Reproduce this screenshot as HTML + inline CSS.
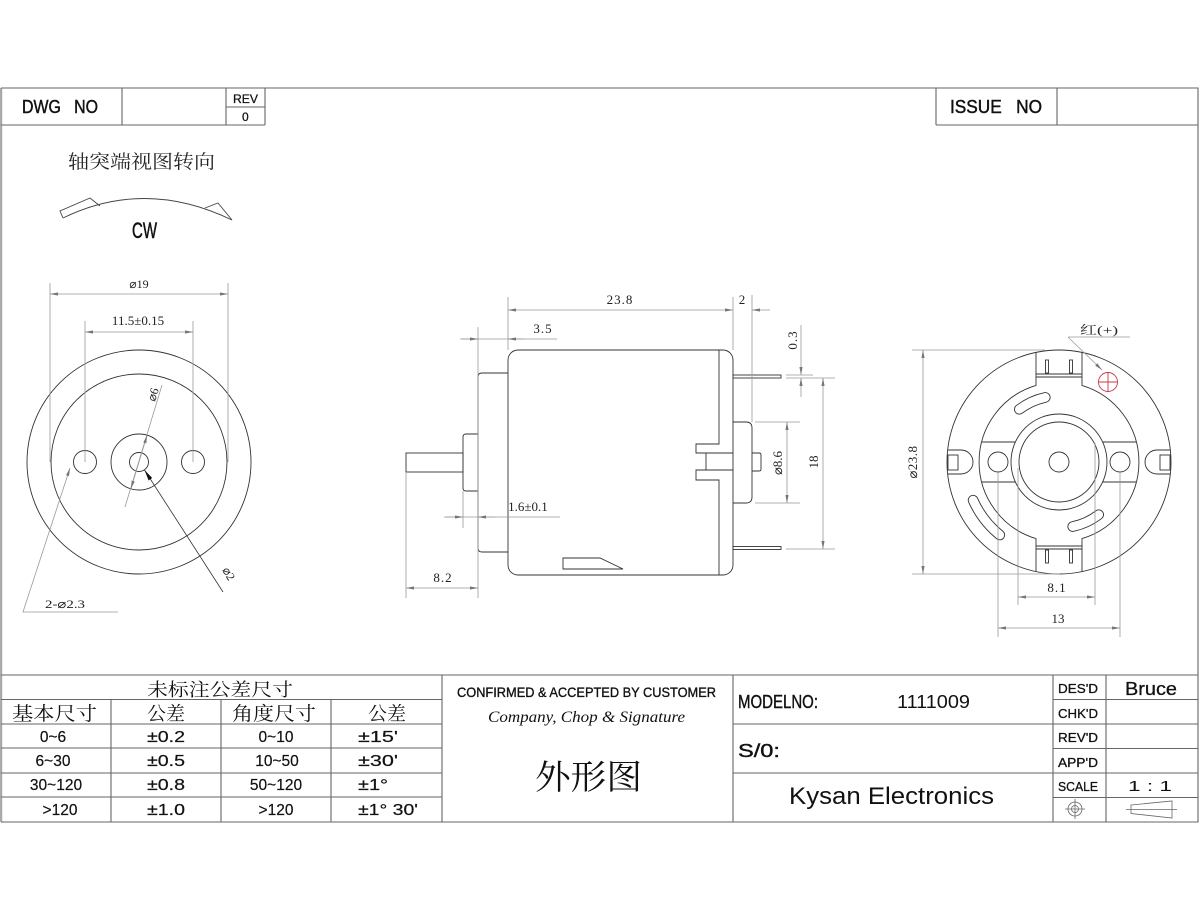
<!DOCTYPE html>
<html><head><meta charset="utf-8">
<style>html,body{margin:0;padding:0;background:#fff}svg{display:block}</style>
</head>
<body>
<svg width="1200" height="910" viewBox="0 0 1200 910" xmlns="http://www.w3.org/2000/svg">
<defs>
<marker id="ar" viewBox="0 0 10 4" refX="10" refY="2" markerWidth="9" markerHeight="3.2" markerUnits="userSpaceOnUse" orient="auto-start-reverse"><path d="M0,0 L10,2 L0,4 z" fill="#777"/></marker>
<marker id="ab" viewBox="0 0 10 4" refX="10" refY="2" markerWidth="11" markerHeight="4.4" markerUnits="userSpaceOnUse" orient="auto-start-reverse"><path d="M0,0 L10,2 L0,4 z" fill="#111"/></marker>
</defs>
<rect width="1200" height="910" fill="#fff"/>

<!-- FRAME -->
<line x1="1" y1="88" x2="1" y2="822" stroke="#aaa" stroke-width="2.5"/>
<g fill="none" stroke="#666" stroke-width="1.1">
 <path d="M1,88 H1198 V822 H1"/>
 <path d="M1,125 H265 M122,88 V125 M226,88 V125 M265,88 V125 M226,107 H265"/>
 <path d="M936,125 H1198 M936,88 V125 M1057,88 V125"/>
 <path d="M1,675 H1198"/>
 <path d="M1,699.5 H442 M1,724 H442 M1,748 H442 M1,773 H442 M1,797 H442 M111,699.5 V822 M221,699.5 V822 M331,699.5 V822 M442,675 V822 M733,675 V822"/>
 <path d="M733,724 H1053 M733,773 H1053 M1053,675 V822 M1106,675 V822 M1053,699.5 H1198 M1053,724 H1198 M1053,748.5 H1198 M1053,773 H1198 M1053,797.5 H1198"/>
</g>

<!-- HEADER TEXT -->
<g font-family="'Liberation Sans Narrow','Liberation Sans',sans-serif" fill="#111" stroke="#111" stroke-width="0.45">
 <text x="22" y="113" font-size="18" textLength="76" lengthAdjust="spacingAndGlyphs">DWG&#160;&#160;&#160;NO</text>
 <text x="233" y="103" font-size="12" textLength="25" lengthAdjust="spacingAndGlyphs" stroke-width="0.25">REV</text>
 <text x="242" y="121" font-size="12" stroke-width="0.25">0</text>
 <text x="950" y="113" font-size="18" textLength="92" lengthAdjust="spacingAndGlyphs">ISSUE&#160;&#160;&#160;NO</text>
</g>

<!-- CW -->
<text x="68" y="168" font-family="'Noto Serif CJK SC','Noto Sans CJK SC',serif" font-size="19" fill="#222" textLength="147" lengthAdjust="spacingAndGlyphs">轴突端视图转向</text>
<g fill="none" stroke="#444" stroke-width="0.9">
 <path d="M63,218 Q145,178 232,220"/>
 <path d="M63,218 L60,211 L90,198 L100,206"/>
 <path d="M205,208 L218,203 L232,220"/>
</g>
<text x="132" y="238" font-family="'Liberation Sans Narrow','Liberation Sans',sans-serif" font-size="22" fill="#111" stroke="#111" stroke-width="0.5" textLength="25" lengthAdjust="spacingAndGlyphs">CW</text>

<!-- LEFT VIEW -->
<g fill="none" stroke="#333" stroke-width="0.9">
 <circle cx="139" cy="462" r="112"/>
 <circle cx="139" cy="462" r="88"/>
 <circle cx="139" cy="462" r="28"/>
 <circle cx="139" cy="462" r="9.5"/>
 <circle cx="85" cy="462" r="11.5"/>
 <circle cx="193" cy="462" r="11.5"/>
</g>
<g fill="none" stroke="#999" stroke-width="0.8">
 <path d="M50,283 V462 M228,283 V462 M85,321 V462 M193,321 V462"/>
 <line x1="50" y1="294" x2="228" y2="294" marker-start="url(#ar)" marker-end="url(#ar)"/>
 <line x1="85" y1="332" x2="193" y2="332" marker-start="url(#ar)" marker-end="url(#ar)"/>
 <path d="M162,385 L125,507"/>
 <line x1="139" y1="462" x2="147.1" y2="435.2" marker-end="url(#ar)"/>
 <line x1="139" y1="462" x2="130.9" y2="488.8" marker-end="url(#ar)"/>
 <path d="M118,612 H23 L70,468" marker-end="url(#ar)"/>
</g>
<line x1="223" y1="592" x2="144.5" y2="470" stroke="#333" stroke-width="0.8" marker-end="url(#ab)"/>
<g font-family="'Liberation Serif',serif" fill="#222" font-size="12">
 <text x="139" y="288" text-anchor="middle">⌀19</text>
 <text x="138" y="325" text-anchor="middle" font-size="13">11.5±0.15</text>
 <text x="0" y="0" transform="translate(155,402) rotate(-73)" font-size="12">⌀6</text>
 <text x="0" y="0" transform="translate(222,570) rotate(60)" font-size="12">⌀2</text>
 <text x="45" y="608" font-size="12" textLength="40" lengthAdjust="spacingAndGlyphs">2-⌀2.3</text>
</g>

<!-- MIDDLE VIEW -->
<g fill="none" stroke="#333" stroke-width="0.9">
 <rect x="508" y="350" width="225" height="225" rx="10"/>
 <path d="M719,350 V444 H696 V453 H706 V470 H696 V480 H719 V575"/>
 <path d="M706,453 H733 M706,470 H733"/>
 <path d="M733,422 H746 Q752,422 752,428 V497 Q752,503 746,503 H733"/>
 <path d="M752,453 H759 Q761,453 761,455 V469 Q761,471 759,471 H752"/>
 <rect x="733" y="375" width="48" height="3"/>
 <rect x="733" y="546.5" width="48" height="3"/>
 <path d="M508,373 H482 Q478,373 478,377 V548 Q478,552 482,552 H508"/>
 <path d="M478,434 H466 Q463,434 463,437 V488 Q463,491 466,491 H478"/>
 <rect x="406" y="453" width="57" height="19"/>
 <path d="M563,558 H600 L623,569 H563 Z"/>
</g>
<g fill="none" stroke="#999" stroke-width="0.8">
 <path d="M508,297 V350 M733,297 V350 M752,295 V422"/>
 <line x1="508" y1="310" x2="733" y2="310" marker-start="url(#ar)" marker-end="url(#ar)"/>
 <line x1="770" y1="310" x2="752" y2="310" marker-end="url(#ar)"/>
 <path d="M478,327 V598 M463,491 V528 M406,472 V598"/>
 <path d="M460,339 H557"/>
 <line x1="462" y1="339" x2="478" y2="339" marker-end="url(#ar)"/>
 <line x1="524" y1="339" x2="508" y2="339" marker-end="url(#ar)"/>
 <path d="M444,517 H560"/>
 <line x1="446" y1="517" x2="463" y2="517" marker-end="url(#ar)"/>
 <line x1="495" y1="517" x2="478" y2="517" marker-end="url(#ar)"/>
 <line x1="406" y1="588" x2="478" y2="588" marker-start="url(#ar)" marker-end="url(#ar)"/>
 <path d="M786,375 H813 M786,378 H835 M786,549 H835 M755,422 H800 M755,503 H800"/>
 <line x1="801" y1="325" x2="801" y2="375" marker-end="url(#ar)"/>
 <line x1="801" y1="397" x2="801" y2="378" marker-end="url(#ar)"/>
 <line x1="823" y1="378" x2="823" y2="549" marker-start="url(#ar)" marker-end="url(#ar)"/>
 <line x1="787" y1="422" x2="787" y2="503" marker-start="url(#ar)" marker-end="url(#ar)"/>
</g>
<g font-family="'Liberation Serif',serif" fill="#222" font-size="13">
 <text x="620" y="304" text-anchor="middle" letter-spacing="1">23.8</text>
 <text x="742" y="304" text-anchor="middle">2</text>
 <text x="543" y="333" text-anchor="middle" letter-spacing="1">3.5</text>
 <text x="528" y="511" text-anchor="middle">1.6±0.1</text>
 <text x="443" y="582" text-anchor="middle" letter-spacing="1">8.2</text>
 <text transform="translate(797,340) rotate(-90)" text-anchor="middle" letter-spacing="1">0.3</text>
 <text transform="translate(782,463) rotate(-90)" text-anchor="middle">⌀8.6</text>
 <text transform="translate(818,462) rotate(-90)" text-anchor="middle">18</text>
</g>

<!-- RIGHT VIEW -->
<g fill="none" stroke="#333" stroke-width="0.9">
 <circle cx="1059" cy="462" r="112"/>
 <path d="M1036,352.4 V385.4 A80,80 0 0,0 1036,538.6 V571.6"/>
 <path d="M1082,352.4 V385.4 A80,80 0 0,1 1082,538.6 V571.6"/>
 <path d="M1036,374 H1082 M1036,377 H1082 M1036,546 H1082 M1036,549 H1082"/>
 <rect x="1045.5" y="360" width="3" height="13"/>
 <rect x="1069.5" y="360" width="3" height="13"/>
 <rect x="1045.5" y="550" width="3" height="13"/>
 <rect x="1069.5" y="550" width="3" height="13"/>
 <path d="M981.5,442 H1015.4 M981.5,482 H1015.4 M1102.6,442 H1136.5 M1102.6,482 H1136.5"/>
 <circle cx="1059" cy="462" r="48"/>
 <circle cx="1059" cy="462" r="40"/>
 <circle cx="1059" cy="462" r="10"/>
 <circle cx="998" cy="462" r="10"/>
 <circle cx="1120" cy="462" r="10"/>
 <path d="M947.6,450 H961 A12,12 0 0,1 961,474 H947.6"/>
 <rect x="948" y="455" width="10" height="15"/>
 <path d="M1170.4,450 H1157 A12,12 0 0,0 1157,474 H1170.4"/>
 <rect x="1160" y="455" width="10" height="15"/>
</g>
<g fill="none" stroke-linecap="round">
 <g stroke="#333" stroke-width="10.6">
  <path d="M1019.3,409.3 A66,66 0 0,1 1045.3,397.4"/>
  <path d="M1098.7,514.7 A66,66 0 0,1 1072.7,526.6"/>
  <path d="M999.8,535 A94,94 0 0,1 973.1,500.2"/>
 </g>
 <g stroke="#fff" stroke-width="8.8">
  <path d="M1019.3,409.3 A66,66 0 0,1 1045.3,397.4"/>
  <path d="M1098.7,514.7 A66,66 0 0,1 1072.7,526.6"/>
  <path d="M999.8,535 A94,94 0 0,1 973.1,500.2"/>
 </g>
</g>
<g fill="none" stroke="#c8394a" stroke-width="0.9">
 <circle cx="1108" cy="382" r="9.5"/>
 <path d="M1098.5,382 H1117.5 M1108,372.5 V391.5"/>
</g>
<g fill="none" stroke="#999" stroke-width="0.8">
 <path d="M1068,337 H1130"/>
 <line x1="1068" y1="337" x2="1102" y2="370" marker-end="url(#ar)"/>
 <path d="M912,350 H1045 M912,574 H1060"/>
 <line x1="923" y1="350" x2="923" y2="574" marker-start="url(#ar)" marker-end="url(#ar)"/>
 <path d="M1018,468 V605 M1095,443 V605 M998,472 V637 M1120,472 V637"/>
 <line x1="1018" y1="597" x2="1095" y2="597" marker-start="url(#ar)" marker-end="url(#ar)"/>
 <line x1="998" y1="628" x2="1120" y2="628" marker-start="url(#ar)" marker-end="url(#ar)"/>
</g>
<g font-family="'Liberation Serif','Noto Serif CJK SC',serif" fill="#222" font-size="13">
 <text x="1080" y="334" font-size="12" textLength="38" lengthAdjust="spacingAndGlyphs">红(+)</text>
 <text transform="translate(917,462) rotate(-90)" text-anchor="middle" letter-spacing="0.5">⌀23.8</text>
 <text x="1057" y="592" text-anchor="middle" letter-spacing="1">8.1</text>
 <text x="1058" y="623" text-anchor="middle">13</text>
</g>

<!-- TOLERANCE TABLE -->
<g font-family="'Noto Serif CJK SC','Noto Sans CJK SC',serif" fill="#111">
 <text x="147" y="696" font-size="18" textLength="146" lengthAdjust="spacingAndGlyphs">未标注公差尺寸</text>
 <text x="12" y="720" font-size="19" textLength="85" lengthAdjust="spacingAndGlyphs">基本尺寸</text>
 <text x="147" y="720" font-size="19" textLength="38" lengthAdjust="spacingAndGlyphs">公差</text>
 <text x="232" y="720" font-size="19" textLength="84" lengthAdjust="spacingAndGlyphs">角度尺寸</text>
 <text x="368" y="720" font-size="19" textLength="38" lengthAdjust="spacingAndGlyphs">公差</text>
</g>
<g font-family="'Liberation Sans',sans-serif" fill="#111" font-size="15.5" stroke="#111" stroke-width="0.2">
 <text x="53" y="742" text-anchor="middle">0~6</text>
 <text x="53" y="766" text-anchor="middle">6~30</text>
 <text x="56" y="790" text-anchor="middle">30~120</text>
 <text x="60" y="815" text-anchor="middle">&gt;120</text>
 <text x="147" y="742" textLength="38" lengthAdjust="spacingAndGlyphs">±0.2</text>
 <text x="147" y="766" textLength="38" lengthAdjust="spacingAndGlyphs">±0.5</text>
 <text x="147" y="790" textLength="38" lengthAdjust="spacingAndGlyphs">±0.8</text>
 <text x="147" y="815" textLength="38" lengthAdjust="spacingAndGlyphs">±1.0</text>
 <text x="276" y="742" text-anchor="middle">0~10</text>
 <text x="277" y="766" text-anchor="middle">10~50</text>
 <text x="276" y="790" text-anchor="middle">50~120</text>
 <text x="276" y="815" text-anchor="middle">&gt;120</text>
 <text x="358" y="742" textLength="40" lengthAdjust="spacingAndGlyphs">±15'</text>
 <text x="358" y="766" textLength="40" lengthAdjust="spacingAndGlyphs">±30'</text>
 <text x="358" y="790" textLength="30" lengthAdjust="spacingAndGlyphs">±1°</text>
 <text x="358" y="815" textLength="60" lengthAdjust="spacingAndGlyphs">±1° 30'</text>
</g>

<!-- MIDDLE TITLE BLOCK -->
<text x="457" y="697" font-family="'Liberation Sans Narrow','Liberation Sans',sans-serif" font-size="14" fill="#111" stroke="#111" stroke-width="0.35" textLength="259" lengthAdjust="spacingAndGlyphs">CONFIRMED &amp; ACCEPTED BY CUSTOMER</text>
<text x="488" y="722" font-family="'Liberation Serif',serif" font-style="italic" font-size="16" fill="#111" textLength="197" lengthAdjust="spacingAndGlyphs">Company, Chop &amp; Signature</text>
<text x="535" y="789" font-family="'Noto Serif CJK SC','Noto Sans CJK SC',serif" font-size="34" fill="#111" textLength="107" lengthAdjust="spacingAndGlyphs">外形图</text>

<!-- RIGHT TITLE BLOCK -->
<g font-family="'Liberation Sans Narrow','Liberation Sans',sans-serif" fill="#111" stroke="#111" stroke-width="0.4">
 <text x="738" y="708" font-size="18" textLength="80" lengthAdjust="spacingAndGlyphs">MODELNO:</text>
 <text x="738" y="757" font-size="18" textLength="42" lengthAdjust="spacingAndGlyphs">S/0:</text>
 <text x="1058" y="693" font-size="13" textLength="40" lengthAdjust="spacingAndGlyphs" stroke-width="0.3">DES'D</text>
 <text x="1058" y="718" font-size="13" textLength="40" lengthAdjust="spacingAndGlyphs" stroke-width="0.3">CHK'D</text>
 <text x="1058" y="742" font-size="13" textLength="40" lengthAdjust="spacingAndGlyphs" stroke-width="0.3">REV'D</text>
 <text x="1058" y="767" font-size="13" textLength="40" lengthAdjust="spacingAndGlyphs" stroke-width="0.3">APP'D</text>
 <text x="1058" y="791" font-size="13" textLength="40" lengthAdjust="spacingAndGlyphs" stroke-width="0.3">SCALE</text>
</g>
<g font-family="'Liberation Sans',sans-serif" fill="#111">
 <text x="897" y="708" font-size="18" textLength="73" lengthAdjust="spacingAndGlyphs">1111009</text>
 <text x="789" y="804" font-size="24" textLength="205" lengthAdjust="spacingAndGlyphs">Kysan Electronics</text>
 <text x="1125" y="695" font-size="18" textLength="52" lengthAdjust="spacingAndGlyphs" stroke="#111" stroke-width="0.3">Bruce</text>
 <text x="1128" y="791" font-size="15" textLength="44" lengthAdjust="spacingAndGlyphs">1 : 1</text>
</g>
<g fill="none" stroke="#666" stroke-width="0.8">
 <circle cx="1075" cy="809" r="7"/>
 <circle cx="1075" cy="809" r="3.5"/>
 <path d="M1065,809 H1085 M1075,799 V819"/>
 <path d="M1131,805 L1172,801 V818 L1131,813.5 Z"/>
 <path d="M1126,809.5 H1177"/>
</g>
</svg>
</body></html>
